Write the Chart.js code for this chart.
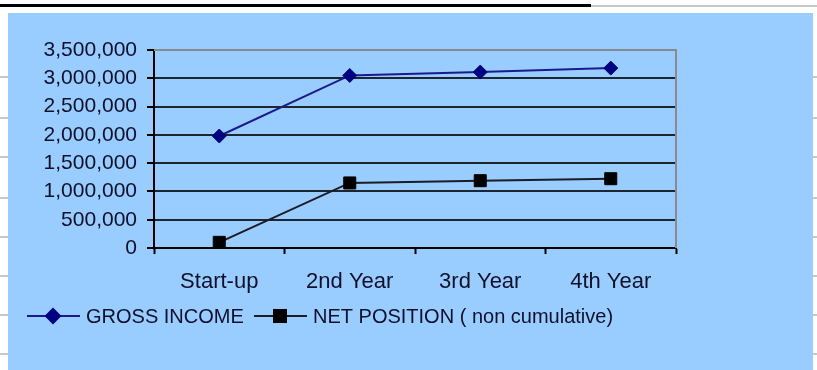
<!DOCTYPE html>
<html>
<head>
<meta charset="utf-8">
<script src="https://cdn.jsdelivr.net/npm/chart.js@4/dist/chart.umd.min.js"></script>
<style>
  html, body { margin: 0; padding: 0; background: #fff; }
  body { width: 817px; height: 370px; position: relative; overflow: hidden; }
  .rule { position: absolute; background: #c8c8c8; height: 2px; }
  #chart-box {
    position: absolute; left: 8px; top: 13px; width: 805px; height: 357px;
    background: #99ccff;
  }
</style>
</head>
<body>
<div class="rule" style="left:0;top:4px;width:591px;height:3px;background:#000"></div>
<div class="rule" style="left:591px;top:5px;width:226px"></div>
<div id="rules"></div>
<div id="chart-box"><canvas id="income-chart" width="805" height="357"></canvas></div>
<script>
const CATEGORIES = ['Start-up', '2nd Year', '3rd Year', '4th Year'];
const GROSS_INCOME = [1980000, 3050000, 3110000, 3180000];
const NET_POSITION = [100000, 1150000, 1190000, 1225000];
const Y_MAX = 3500000;
const Y_STEP = 500000;

// faint spreadsheet row lines peeking out at the sides
const ROW_LINES = [76, 117, 156, 197, 236, 275, 314, 353];
const rules = document.getElementById('rules');
for (const y of ROW_LINES) {
  for (const [left, width] of [[0, 8], [813, 4]]) {
    const line = document.createElement('div');
    line.className = 'rule';
    line.style.cssText = `left:${left}px;top:${y}px;width:${width}px`;
    rules.append(line);
  }
}

const FAMILY = '"Liberation Sans", Arial, sans-serif';
const TEXT_COLOR = '#10102a';

// gray frame on the top and right of the plot area
const plotFrame = {
  id: 'plotFrame',
  afterDatasetsDraw(chart) {
    const { ctx, chartArea: a } = chart;
    ctx.save();
    ctx.strokeStyle = '#8a8a8a';
    ctx.lineWidth = 2;
    ctx.beginPath();
    ctx.moveTo(a.left, a.top);
    ctx.lineTo(a.right, a.top);
    ctx.lineTo(a.right, a.bottom);
    ctx.stroke();
    ctx.restore();
  },
};

// legend row: short line with the series marker, then the label
const lineLegend = {
  id: 'lineLegend',
  afterDraw(chart) {
    const { ctx } = chart;
    const y = 303;
    const starts = [19, 246];
    ctx.save();
    chart.data.datasets.forEach((ds, i) => {
      const x = starts[i];
      ctx.strokeStyle = ds.borderColor;
      ctx.lineWidth = ds.borderWidth;
      ctx.beginPath();
      ctx.moveTo(x, y);
      ctx.lineTo(x + 53, y);
      ctx.stroke();
      ctx.fillStyle = ds.pointBackgroundColor;
      ctx.strokeStyle = ds.pointBorderColor;
      Chart.helpers.drawPoint(ctx, {
        pointStyle: ds.pointStyle,
        radius: ds.pointRadius,
        borderWidth: ds.pointBorderWidth,
        rotation: 0,
      }, x + 26, y);
      ctx.fillStyle = TEXT_COLOR;
      ctx.font = `20px ${FAMILY}`;
      ctx.textBaseline = 'middle';
      ctx.fillText(ds.label, x + 59, y + 1);
    });
    ctx.restore();
  },
};

new Chart(document.getElementById('income-chart'), {
  type: 'line',
  data: {
    labels: CATEGORIES,
    datasets: [
      {
        label: 'GROSS INCOME',
        data: GROSS_INCOME,
        borderColor: '#1a1a8c',
        borderWidth: 2,
        pointStyle: 'rectRot',
        pointRadius: 7,
        pointBorderWidth: 1,
        pointBackgroundColor: '#000080',
        pointBorderColor: '#000080',
      },
      {
        label: 'NET POSITION ( non cumulative)',
        data: NET_POSITION,
        borderColor: '#1c1c24',
        borderWidth: 2,
        pointStyle: 'rect',
        pointRadius: 8.5,
        pointBorderWidth: 1,
        pointBackgroundColor: '#000',
        pointBorderColor: '#000',
      },
    ],
  },
  options: {
    responsive: false,
    animation: false,
    layout: { padding: { left: 0, top: 37, right: 137, bottom: 0 } },
    plugins: {
      legend: { display: false },
      tooltip: { enabled: false },
    },
    scales: {
      x: {
        offset: true,
        afterFit: (scale) => { scale.height = 122; },
        grid: {
          offset: true,
          drawOnChartArea: false,
          tickLength: 6,
          tickColor: '#000',
          tickWidth: 2,
        },
        border: { color: '#000', width: 2 },
        ticks: {
          font: { family: FAMILY, size: 22 },
          color: TEXT_COLOR,
          padding: 15,
          maxRotation: 0,
        },
      },
      y: {
        min: 0,
        max: Y_MAX,
        afterFit: (scale) => { scale.width = 146; },
        grid: {
          color: (c) => (c.tick && c.tick.value === Y_MAX ? '#8a8a8a' : '#1e2430'),
          lineWidth: 2,
          tickLength: 7,
          tickColor: '#000',
          tickWidth: 2,
        },
        border: { color: '#000', width: 2 },
        ticks: {
          stepSize: Y_STEP,
          font: { family: FAMILY, size: 21 },
          color: TEXT_COLOR,
          padding: 10,
          callback: (v) => Number(v).toLocaleString('en-US'),
        },
      },
    },
  },
  plugins: [plotFrame, lineLegend],
});
</script>
</body>
</html>
